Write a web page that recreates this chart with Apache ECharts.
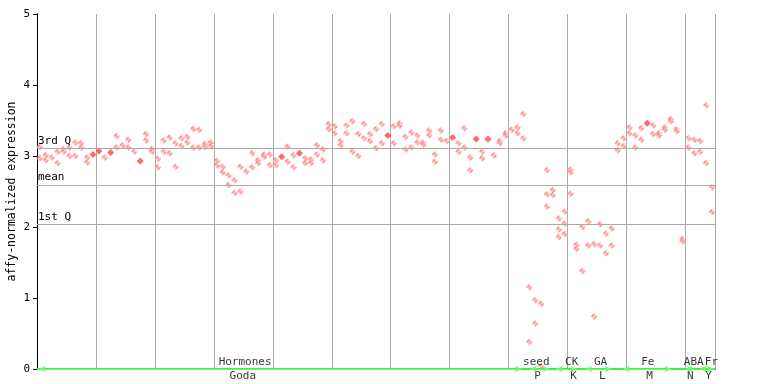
<!DOCTYPE html>
<html><head><meta charset="utf-8">
<script src="https://cdn.jsdelivr.net/npm/echarts@6/dist/echarts.min.js"></script>
<style>html,body{margin:0;padding:0;background:#fff}#c{width:768px;height:384px}</style>
</head><body><div id="c"></div>
<script>
// replicate values per sample position (0..114)
const rep1 = [3.13,3.01,2.98,3.06,3.10,3.12,3.19,3.18,2.98,3.02,
  3.07,2.98,3.05,3.28,3.15,3.23,3.06,2.93,3.31,3.10,
  2.96,3.22,3.26,3.18,3.25,3.27,3.38,3.37,3.17,3.19,
  2.93,2.85,2.73,2.66,2.85,2.78,3.04,2.94,3.02,3.02,
  2.94,2.99,3.13,3.01,3.04,2.97,2.95,3.15,3.09,3.45,
  3.42,3.21,3.43,3.49,3.31,3.45,3.31,3.38,3.45,3.29,
  3.42,3.46,3.27,3.33,3.29,3.19,3.36,3.02,3.36,3.21,
  3.26,3.18,3.39,2.98,3.24,3.06,3.24,3.01,3.21,3.32,
  3.37,3.40,3.59,1.15,0.97,0.92,2.80,2.52,2.12,2.22,
  2.81,1.75,2.00,2.08,1.76,2.04,1.91,1.98,3.18,3.25,
  3.40,3.29,3.39,3.46,3.43,3.32,3.40,3.52,3.38,1.83,
  3.25,3.23,3.21,3.71,2.56];
const rep2 = [2.97,2.94,null,2.90,3.06,3.00,3.00,3.12,2.91,3.02,
  3.07,null,3.05,3.12,null,3.12,null,2.93,3.22,3.06,
  2.84,3.06,3.04,2.85,3.14,3.19,3.12,3.12,3.13,3.14,
  2.87,2.77,2.59,2.48,2.50,null,2.84,2.90,2.99,2.87,
  2.87,2.99,2.92,2.84,3.04,2.90,2.90,3.02,2.94,3.38,
  3.32,3.15,3.32,3.06,3.00,3.25,3.21,3.11,3.18,3.29,
  3.18,3.43,3.09,3.12,3.19,3.16,3.29,2.92,3.23,null,
  3.26,3.06,3.12,2.80,3.24,2.97,3.24,null,3.18,3.29,
  null,3.32,3.25,0.38,0.64,0.04,2.46,2.45,1.97,2.05,
  2.77,1.69,1.38,1.74,0.74,1.74,1.63,1.74,3.08,3.14,
  3.32,3.12,3.23,3.46,3.31,3.29,3.37,3.49,3.35,1.80,
  3.12,3.04,3.06,2.90,2.21];
const rep3Pos = [86, 88, 89, 90];
const rep3Val = [2.29, 1.86, 1.90, 2.47];

const quartileValues = [3.108, 2.587, 2.038];
const quartileNames = ['3rd Q', 'mean', '1st Q'];

const topLabels = ['Hormones', 'seed', 'CK', 'GA', 'Fe', 'ABA', 'Fr'];
const topLabelPos = [35.3, 84.7, 90.7, 95.6, 103.6, 111.4, 114.4];
const bottomLabels = ['Goda', 'P', 'K', 'L', 'M', 'N', 'Y'];
const bottomLabelPos = [34.9, 84.9, 91.0, 95.9, 103.9, 110.8, 113.9];
const groupStart = [0.3, 83.6, 88.0, 93.0, 99.4, 110.0, 112.4];
const groupEnd   = [82.2, 86.9, 91.6, 97.5, 107.6, 111.4, 114.8];

const RED = '#ff4444';
const FONT = 'DejaVu Sans Mono';

const pc = document.createElement('canvas'); pc.width = 2; pc.height = 2;
const g = pc.getContext('2d');
g.fillStyle = '#ffffff'; g.fillRect(0, 0, 2, 2);
g.fillStyle = RED; g.fillRect(0, 0, 1, 1); g.fillRect(1, 1, 1, 1);
const pattern = { image: pc, repeat: 'repeat' };

const hollow = [], solid = [];
for (let i = 0; i < rep1.length; i++) {
  const a = rep1[i], b = rep2[i];
  if (a != null && b != null && Math.abs(a - b) < 0.005) { solid.push([i + 0.5, a]); continue; }
  if (a != null) hollow.push([i + 0.5, a]);
  if (b != null) hollow.push([i + 0.5, b]);
}
rep3Pos.forEach((p, k) => hollow.push([p + 0.5, rep3Val[k]]));

const chart = echarts.init(document.getElementById('c'), null, { renderer: 'canvas' });
chart.setOption({
  animation: false,
  backgroundColor: '#fff',
  grid: { left: 37, right: 53, top: 14, bottom: 15, containLabel: false, outerBoundsMode: 'none' },
  xAxis: [{
    type: 'value', min: 0, max: 115, interval: 10, position: 'bottom',
    axisLine: { show: true, lineStyle: { color: '#000' } },
    axisTick: { show: false }, axisLabel: { show: false },
    splitLine: { show: true, lineStyle: { color: '#aaaaaa', width: 1 } }
  }, {
    type: 'value', min: 0, max: 115, position: 'top',
    axisLine: { show: true, lineStyle: { color: '#000' } },
    axisTick: { show: false }, axisLabel: { show: false }, splitLine: { show: false }
  }],
  yAxis: [{
    type: 'value', min: 0, max: 5, interval: 1,
    axisLine: { show: true, lineStyle: { color: '#000' } },
    axisTick: { show: true, inside: false, length: 4, lineStyle: { color: '#000' } },
    axisLabel: { margin: 7, color: '#000', fontFamily: FONT, fontSize: 11 },
    splitLine: { show: false },
    name: 'affy-normalized expression', nameLocation: 'middle', nameGap: 19, nameRotate: 90,
    nameMoveOverlap: false,
    nameTextStyle: { color: '#000', fontFamily: FONT, fontSize: 11.5 }
  }, {
    type: 'value', min: 0, max: 5, interval: 1, position: 'right',
    axisLine: { show: true, lineStyle: { color: '#000' } },
    axisTick: { show: true, inside: true, length: 3, lineStyle: { color: '#000' } },
    axisLabel: { show: false }, splitLine: { show: false }
  }],
  series: [
    {
      type: 'scatter', data: [], silent: true,
      markLine: {
        silent: true, symbol: 'none', animation: false,
        lineStyle: { color: '#aaaaaa', width: 1, type: 'solid' },
        label: { show: true, position: 'insideStartTop', distance: [1, 2], color: '#000',
          fontFamily: FONT, fontSize: 11, formatter: p => p.name },
        data: quartileValues.map((v, k) => ({ yAxis: v, name: quartileNames[k] }))
      }
    },
    {
      type: 'scatter', data: hollow, symbol: 'diamond', symbolSize: 7, silent: true,
      itemStyle: { color: pattern }
    },
    {
      type: 'scatter', data: solid, symbol: 'diamond', symbolSize: 7, silent: true,
      itemStyle: { color: RED }
    },
    {
      type: 'scatter', data: [], silent: true,
      markLine: {
        silent: true, animation: false, symbol: 'none',
        lineStyle: { color: '#44ee44', width: 2, type: 'solid' }, label: { show: false },
        data: [[{ coord: [0, 0] }, { coord: [115, 0] }]]
      }
    },
    {
      type: 'scatter', data: [], silent: true,
      markLine: {
        silent: true, animation: false, symbol: ['arrow', 'arrow'], symbolSize: [5, 7],
        lineStyle: { color: '#66ff66', width: 1, type: 'solid' }, label: { show: false },
        data: groupStart.map((s, k) => [{ coord: [s, 0] }, { coord: [groupEnd[k], 0] }])
      }
    },
    {
      type: 'scatter', silent: true, symbolSize: 1, itemStyle: { color: 'transparent' },
      data: topLabels.map((n, k) => ({ name: n, value: [topLabelPos[k], 0] })),
      label: { show: true, position: 'inside', offset: [0, -7], formatter: p => p.name,
        color: '#000', fontFamily: FONT, fontSize: 11 }
    },
    {
      type: 'scatter', silent: true, symbolSize: 1, itemStyle: { color: 'transparent' },
      data: bottomLabels.map((n, k) => ({ name: n, value: [bottomLabelPos[k], 0] })),
      label: { show: true, position: 'inside', offset: [0, 7], formatter: p => p.name,
        color: '#000', fontFamily: FONT, fontSize: 11 }
    }
  ]
});
</script></body></html>
